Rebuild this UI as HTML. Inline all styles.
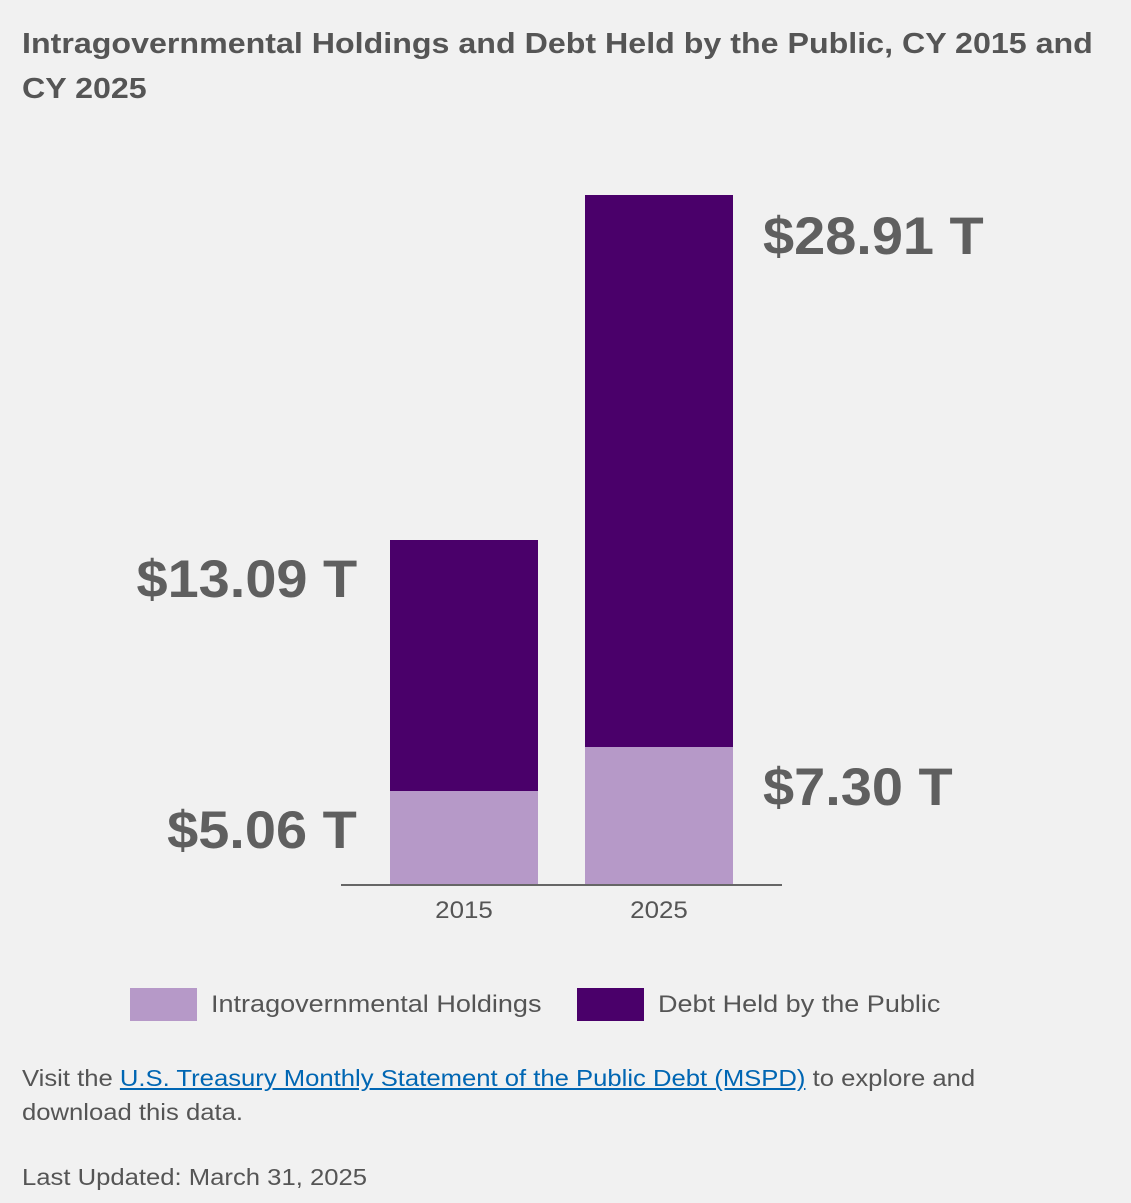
<!DOCTYPE html>
<html><head><meta charset="utf-8"><style>
body{margin:0;width:1131px;height:1203px;background:#f1f1f1;position:relative;overflow:hidden;font-family:"Liberation Sans",sans-serif;color:#555}
.a{position:absolute;white-space:nowrap}
.t{left:22px;top:22px;font-size:29px;font-weight:bold;line-height:45px;color:#555;transform:scaleX(1.11);transform-origin:left top}
.v{font-size:53px;font-weight:bold;color:#5f5f5f;line-height:53px}
.vl{transform:scaleX(1.055);transform-origin:left center}
.vr{transform:scaleX(1.055);transform-origin:right center}
.f{font-size:23px;color:#555;line-height:34px;left:22px;transform:scaleX(1.115);transform-origin:left top}
.lg{font-size:24px;color:#555;transform:scaleX(1.126);transform-origin:left top}
a{color:#0066b3;text-decoration:underline}
</style></head><body>
<div class="a t">Intragovernmental Holdings and Debt Held by the Public, CY 2015 and<br>CY 2025</div>
<div class="a" style="left:390px;top:540px;width:148px;height:251px;background:#4a006a"></div>
<div class="a" style="left:390px;top:791px;width:148px;height:94px;background:#b699c8"></div>
<div class="a" style="left:585px;top:195px;width:148px;height:552px;background:#4a006a"></div>
<div class="a" style="left:585px;top:747px;width:148px;height:138px;background:#b699c8"></div>
<div class="a" style="left:341px;top:884px;width:441px;height:2px;background:#666"></div>
<div class="a" style="left:414px;top:897px;width:100px;text-align:center;font-size:24px;color:#555;transform:scaleX(1.08)">2015</div>
<div class="a" style="left:609px;top:897px;width:100px;text-align:center;font-size:24px;color:#555;transform:scaleX(1.08)">2025</div>
<div class="a v vr" style="right:774px;top:553px">$13.09 T</div>
<div class="a v vr" style="right:774px;top:804px">$5.06 T</div>
<div class="a v vl" style="left:763px;top:210px">$28.91 T</div>
<div class="a v vl" style="left:763px;top:761px">$7.30 T</div>
<div class="a" style="left:130px;top:988px;width:67px;height:33px;background:#b699c8"></div>
<div class="a lg" style="left:211px;top:991px">Intragovernmental Holdings</div>
<div class="a" style="left:577px;top:988px;width:67px;height:33px;background:#4a006a"></div>
<div class="a lg" style="left:658px;top:991px">Debt Held by the Public</div>
<div class="a f" style="top:1061px">Visit the <a>U.S. Treasury Monthly Statement of the Public Debt (MSPD)</a> to explore and<br>download this data.</div>
<div class="a f" style="top:1160px">Last Updated: March 31, 2025</div>
</body></html>
